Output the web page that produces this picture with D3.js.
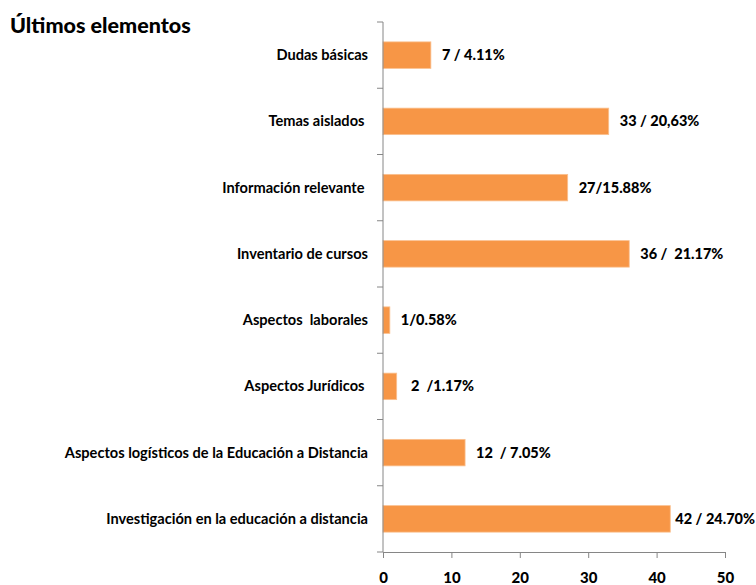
<!DOCTYPE html>
<html><head><meta charset="utf-8">
<script src="https://cdn.jsdelivr.net/npm/d3@7"></script>
<style>body{margin:0;background:#fff}text{white-space:pre}</style>
</head><body><svg id="c" width="756" height="585"></svg>
<script>
const categories = ["Dudas básicas","Temas aislados ","Información relevante ","Inventario de cursos","Aspectos  laborales","Aspectos Jurídicos ","Aspectos logísticos de la Educación a Distancia","Investigación en la educación a distancia"];
const values = [7,33,27,36,1,2,12,42];
const valueLabels = ["7 / 4.11%","33 / 20,63%","27/15.88%","36 /  21.17%","1/0.58%"," 2  /1.17%","12  / 7.05%","42 / 24.70%"];
const xTicks = [0,10,20,30,40,50];
const title = "Últimos elementos";

const svg = d3.select("#c");
const W = 756;
const font = "Lato, 'Open Sans', sans-serif";
const m = {left:383, right:725, top:22, bottom:552};
const x = d3.scaleLinear().domain([0,50]).range([m.left, m.right]);
const y = d3.scaleBand().domain(categories).range([m.top, m.bottom]).paddingInner(0.6).paddingOuter(0.3);

svg.append("text").attr("x",10).attr("y",33).text(title)
  .attr("font-family",font).attr("font-weight","900").attr("font-size",21.5).attr("fill","#000");

svg.selectAll("rect.bar").data(values).join("rect").attr("class","bar")
  .attr("x",x(0)).attr("y",(d,i)=>y(categories[i]))
  .attr("width",d=>x(d)-x(0)).attr("height",y.bandwidth())
  .attr("fill","#F79646").attr("stroke","#FAC090").attr("stroke-width",0.8);

svg.selectAll("text.val").data(values).join("text").attr("class","val")
  .attr("y",(d,i)=>y(categories[i])+y.bandwidth()/2)
  .attr("dy","0.35em").text((d,i)=>valueLabels[i])
  .attr("font-family",font).attr("font-weight","900").attr("font-size",14.5).attr("fill","#000")
  .attr("x",function(d){ const w=this.getComputedTextLength(); return Math.min(x(d)+11, W-1-w); });

svg.selectAll("text.cat").data(categories).join("text").attr("class","cat")
  .attr("x",368).attr("y",d=>y(d)+y.bandwidth()/2).attr("dy","0.35em")
  .attr("text-anchor","end").text(d=>d)
  .attr("font-family",font).attr("font-weight","bold").attr("font-size",14.6).attr("fill","#000");

// y axis line & boundary ticks
const step = (m.bottom-m.top)/categories.length;
const g = svg.append("g");
g.append("line").attr("x1",m.left).attr("x2",m.left).attr("y1",m.top).attr("y2",m.bottom).attr("stroke","#868686");
g.selectAll("line.yt").data(d3.range(categories.length+1)).join("line").attr("class","yt")
  .attr("x1",m.left-6).attr("x2",m.left).attr("y1",i=>m.top+i*step).attr("y2",i=>m.top+i*step).attr("stroke","#868686");

const xa = svg.append("g").attr("transform",`translate(0,${m.bottom})`)
  .call(d3.axisBottom(x).tickValues(xTicks).tickSize(6).tickPadding(14));
xa.select(".domain").attr("stroke","#868686");
xa.selectAll(".tick line").attr("stroke","#868686");
xa.selectAll(".tick text").attr("font-family",font).attr("font-weight","900").attr("font-size",15).attr("fill","#000");
</script></body></html>
